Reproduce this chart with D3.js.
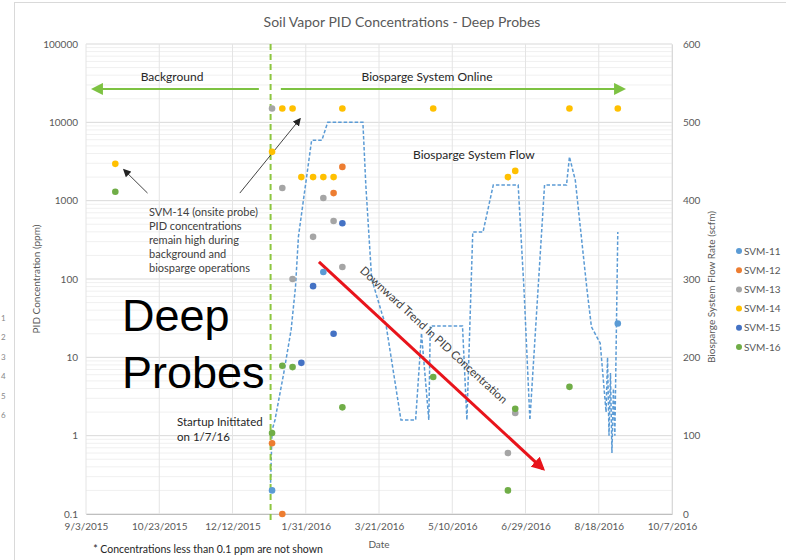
<!DOCTYPE html>
<html>
<head>
<meta charset="utf-8">
<script src="https://cdn.jsdelivr.net/npm/d3@7"></script>
<style>
body { margin: 0; background: white; }
text { font-family: Lato, "Open Sans", sans-serif; }
</style>
</head>
<body>
<svg id="chart"></svg>
<script>
const width = 786;
const height = 560;
const parse = d3.timeParse('%Y-%m-%d');

// axes
const xTicks = ['2015-09-03', '2015-10-23', '2015-12-12', '2016-01-31', '2016-03-21', '2016-05-10', '2016-06-29', '2016-08-18', '2016-10-07'];
const leftTicks = [0.1, 1, 10, 100, 1000, 10000, 100000];
const rightTicks = [0, 100, 200, 300, 400, 500, 600];

// PID readings (ppm)
const seriesNames = ['SVM-11', 'SVM-12', 'SVM-13', 'SVM-14', 'SVM-15', 'SVM-16'];
const svm11 = [['2016-01-08', 0.2], ['2016-02-12', 123], ['2016-08-31', 27]];
const svm12 = [['2016-01-08', 0.8], ['2016-01-15', 0.1], ['2016-02-19', 1250], ['2016-02-25', 2700]];
const svm13 = [['2016-01-08', 15000], ['2016-01-15', 1450], ['2016-01-22', 100], ['2016-02-05', 345], ['2016-02-12', 1080],
               ['2016-02-19', 550], ['2016-02-25', 142], ['2016-06-17', 0.6], ['2016-06-22', 1.95]];
const svm14 = [['2015-09-23', 2950], ['2016-01-08', 4200], ['2016-01-15', 15000], ['2016-01-22', 15000], ['2016-01-28', 2000],
               ['2016-02-05', 2000], ['2016-02-12', 2000], ['2016-02-19', 2000], ['2016-02-25', 15000], ['2016-04-27', 15000],
               ['2016-06-17', 2000], ['2016-06-22', 2400], ['2016-07-29', 15000], ['2016-08-31', 15000]];
const svm15 = [['2016-01-28', 8.5], ['2016-02-05', 81], ['2016-02-19', 20], ['2016-02-25', 515]];
const svm16 = [['2015-09-23', 1300], ['2016-01-08', 1.08], ['2016-01-15', 7.8], ['2016-01-22', 7.5], ['2016-02-25', 2.3],
               ['2016-04-27', 5.6], ['2016-06-17', 0.2], ['2016-06-22', 2.2], ['2016-07-29', 4.2]];
const allSeries = [svm11, svm12, svm13, svm14, svm15, svm16];
const seriesColors = ['#5B9BD5', '#ED7D31', '#A5A5A5', '#FFC000', '#4472C4', '#70AD47'];

// biosparge flow (scfm)
const flowDates = ['2016-01-07', '2016-01-08', '2016-01-10', '2016-01-16', '2016-01-21', '2016-01-24', '2016-01-26', '2016-02-04',
                   '2016-02-11', '2016-02-15', '2016-03-10', '2016-03-12', '2016-03-16', '2016-03-23', '2016-03-26', '2016-04-05',
                   '2016-04-15', '2016-04-19', '2016-04-24', '2016-04-25', '2016-05-17', '2016-05-20', '2016-05-24', '2016-05-31',
                   '2016-06-07', '2016-06-24', '2016-06-28', '2016-07-02', '2016-07-12', '2016-07-27', '2016-07-29', '2016-08-02',
                   '2016-08-10', '2016-08-13', '2016-08-19', '2016-08-23', '2016-08-24', '2016-08-25', '2016-08-26', '2016-08-27',
                   '2016-08-28', '2016-08-29', '2016-08-31'];
const flowValues = [40, 107, 120, 180, 235, 290, 354, 477,
                    477, 500, 500, 420, 300, 256, 239, 120,
                    120, 231, 120, 240, 240, 120, 360, 360,
                    420, 420, 286, 120, 420, 420, 456, 426,
                    286, 239, 218, 130, 200, 100, 180, 78,
                    160, 100, 360];

let svg = d3.select('#chart')
        .attr('width', width)
        .attr('height', height);

let x = d3.scaleTime().domain([parse('2015-09-03'), parse('2016-10-07')]).range([86, 672]);
let y = d3.scaleLog().domain([0.1, 100000]).range([514, 44]);
let y2 = d3.scaleLinear().domain([0, 600]).range([514, 44]);

// chart frame + stray slide digits on the left
svg.append('rect').attr('x', 14.5).attr('y', 2.5).attr('width', 800).attr('height', 600)
        .style('fill', 'none').style('stroke', '#D9D9D9');
[1, 2, 3, 4, 5, 6].forEach((d, i) => {
        svg.append('text').attr('x', 1).attr('y', 321 + i * 19.4).text(d)
           .style('font-size', '8px').style('fill', '#888');
});

// minor grid
let minor = [];
for (let k = -1; k < 5; k++) {
        for (let m = 2; m < 10; m++) minor.push(m * Math.pow(10, k));
}
svg.append('g').selectAll('line').data(minor).enter().append('line')
        .attr('x1', 86).attr('x2', 672)
        .attr('y1', d => y(d)).attr('y2', d => y(d))
        .style('stroke', '#F0F0F0');

// major grid
svg.append('g').selectAll('line').data(leftTicks).enter().append('line')
        .attr('x1', 86).attr('x2', 672)
        .attr('y1', d => y(d)).attr('y2', d => y(d))
        .style('stroke', '#D9D9D9');
svg.append('g').selectAll('line').data(xTicks).enter().append('line')
        .attr('x1', d => x(parse(d))).attr('x2', d => x(parse(d)))
        .attr('y1', 44).attr('y2', 514)
        .style('stroke', '#E4E4E4');

// axes
let fmtDate = d3.timeFormat('%-m/%-d/%Y');
let xAxis = d3.axisBottom(x).tickValues(xTicks.map(parse)).tickFormat(fmtDate).tickSize(0).tickPadding(9);
let gx = svg.append('g').attr('transform', 'translate(0,514)').call(xAxis);
gx.select('.domain').style('stroke', '#BFBFBF');

let yAxis = d3.axisLeft(y).tickValues(leftTicks).tickFormat(d => String(d)).tickSize(0).tickPadding(8);
let gy = svg.append('g').attr('transform', 'translate(86,0)').call(yAxis);
gy.select('.domain').remove();

let y2Axis = d3.axisRight(y2).tickValues(rightTicks).tickSize(0).tickPadding(11);
let gy2 = svg.append('g').attr('transform', 'translate(672,0)').call(y2Axis);
gy2.select('.domain').style('stroke', '#D9D9D9');

svg.selectAll('.tick text').style('font-family', 'Lato, sans-serif').style('font-size', '10px').style('fill', '#595959');

// titles
svg.append('text').attr('x', 402).attr('y', 27).attr('text-anchor', 'middle')
        .text('Soil Vapor PID Concentrations - Deep Probes')
        .style('font-size', '14px').style('fill', '#595959');
svg.append('text').attr('x', 379).attr('y', 548).attr('text-anchor', 'middle')
        .text('Date').style('font-size', '10px').style('fill', '#595959');
svg.append('text').attr('transform', 'translate(40,279) rotate(-90)').attr('text-anchor', 'middle')
        .text('PID Concentration (ppm)').style('font-size', '10px').style('fill', '#595959');
svg.append('text').attr('transform', 'translate(715,287) rotate(-90)').attr('text-anchor', 'middle')
        .text('Biosparge System Flow Rate (scfm)').style('font-size', '10px').style('fill', '#595959');

// markers
let defs = svg.append('defs');
function arrowHead(id, color, w) {
        defs.append('marker').attr('id', id)
            .attr('viewBox', '0 0 10 10').attr('refX', 8).attr('refY', 5)
            .attr('markerWidth', w).attr('markerHeight', w).attr('orient', 'auto')
            .append('path').attr('d', 'M0,0 L10,5 L0,10 z').style('fill', color);
}
arrowHead('ag', '#7DC242', 6);
arrowHead('ak', '#222', 8);
arrowHead('ar', '#E8141B', 4.5);

// flow line
let flow = flowDates.map((d, i) => ({date: parse(d), v: flowValues[i]}));
let flowLine = d3.line().x(d => x(d.date)).y(d => y2(d.v));
svg.append('path').datum(flow).attr('d', flowLine)
        .attr('fill', 'none').attr('stroke', '#5B9BD5')
        .attr('stroke-width', 1.5).attr('stroke-dasharray', '3.5,2');

// startup line
svg.append('line')
        .attr('x1', x(parse('2016-01-07'))).attr('x2', x(parse('2016-01-07')))
        .attr('y1', 44).attr('y2', 521)
        .style('stroke', '#8DC63F').style('stroke-width', 2).style('stroke-dasharray', '6,4');

// background / online arrows
svg.append('line')
        .attr('x1', x(parse('2015-12-30'))).attr('x2', x(parse('2015-09-08')))
        .attr('y1', y(26700)).attr('y2', y(26700))
        .style('stroke', '#7DC242').style('stroke-width', 2).attr('marker-end', 'url(#ag)');
svg.append('line')
        .attr('x1', x(parse('2016-01-14'))).attr('x2', x(parse('2016-09-04')))
        .attr('y1', y(26700)).attr('y2', y(26700))
        .style('stroke', '#7DC242').style('stroke-width', 2).attr('marker-end', 'url(#ag)');
svg.append('text').attr('x', 172).attr('y', 81).attr('text-anchor', 'middle')
        .text('Background').style('font-size', '12px').style('fill', '#262626');
svg.append('text').attr('x', 427).attr('y', 81).attr('text-anchor', 'middle')
        .text('Biosparge System Online').style('font-size', '12px').style('fill', '#262626');

// SVM-14 callout arrows
svg.append('line')
        .attr('x1', x(parse('2015-10-15'))).attr('y1', y(1250))
        .attr('x2', x(parse('2015-09-29'))).attr('y2', y(2465))
        .style('stroke', '#444').style('stroke-width', 1).attr('marker-end', 'url(#ak)');
svg.append('line')
        .attr('x1', x(parse('2015-12-17'))).attr('y1', y(1250))
        .attr('x2', x(parse('2016-01-27'))).attr('y2', y(11000))
        .style('stroke', '#444').style('stroke-width', 1).attr('marker-end', 'url(#ak)');

let callout = ['SVM-14 (onsite probe)', 'PID concentrations', 'remain high during', 'background and', 'biosparge operations'];
svg.append('text').selectAll('tspan').data(callout).enter().append('tspan')
        .attr('x', 149).attr('y', (d, i) => 216 + i * 14).text(d => d)
        .style('font-size', '11px').style('fill', '#404040');

svg.append('text').selectAll('tspan').data(['Startup Inititated', 'on 1/7/16']).enter().append('tspan')
        .attr('x', 177).attr('y', (d, i) => 426 + i * 15).text(d => d)
        .style('font-size', '11.5px').style('fill', '#262626');

svg.append('text').attr('x', 413).attr('y', 159)
        .text('Biosparge System Flow').style('font-size', '12px').style('fill', '#262626');

// big label
svg.append('text').selectAll('tspan').data(['Deep', 'Probes']).enter().append('tspan')
        .attr('x', 122).attr('y', (d, i) => 331 + i * 57).text(d => d)
        .style('font-family', '"Liberation Sans", Arial, sans-serif').style('font-size', '45px').style('fill', '#000');

// downward trend
let r0 = [x(parse('2016-02-09')), y(165)];
let r1 = [x(parse('2016-07-11')), y(0.375)];
svg.append('line')
        .attr('x1', r0[0]).attr('y1', r0[1]).attr('x2', r1[0]).attr('y2', r1[1])
        .style('stroke', '#E8141B').style('stroke-width', 3).attr('marker-end', 'url(#ar)');
let ang = Math.atan2(r1[1] - r0[1], r1[0] - r0[0]) * 180 / Math.PI;
svg.append('text').attr('transform', 'translate(431,338) rotate(' + ang + ')').attr('text-anchor', 'middle')
        .text('Downward Trend in PID Concentration').style('font-size', '11.5px').style('fill', '#404040');

// points
allSeries.forEach((s, i) => {
        svg.append('g').selectAll('circle').data(s).enter().append('circle')
           .attr('cx', d => x(parse(d[0]))).attr('cy', d => y(d[1]))
           .attr('r', 3.3).style('fill', seriesColors[i]);
});

// legend
let legend = svg.append('g').selectAll('g').data(seriesNames).enter().append('g')
        .attr('transform', (d, i) => 'translate(739,' + (251 + i * 19.2) + ')');
legend.append('circle').attr('r', 3).style('fill', (d, i) => seriesColors[i]);
legend.append('text').attr('x', 5).attr('y', 3.5).text(d => d)
        .style('font-size', '10px').style('fill', '#595959');

// footnote
svg.append('text').attr('x', 208).attr('y', 553).attr('text-anchor', 'middle')
        .text('* Concentrations less than 0.1 ppm are not shown').style('font-size', '10.5px').style('fill', '#262626');
</script>
</body>
</html>
